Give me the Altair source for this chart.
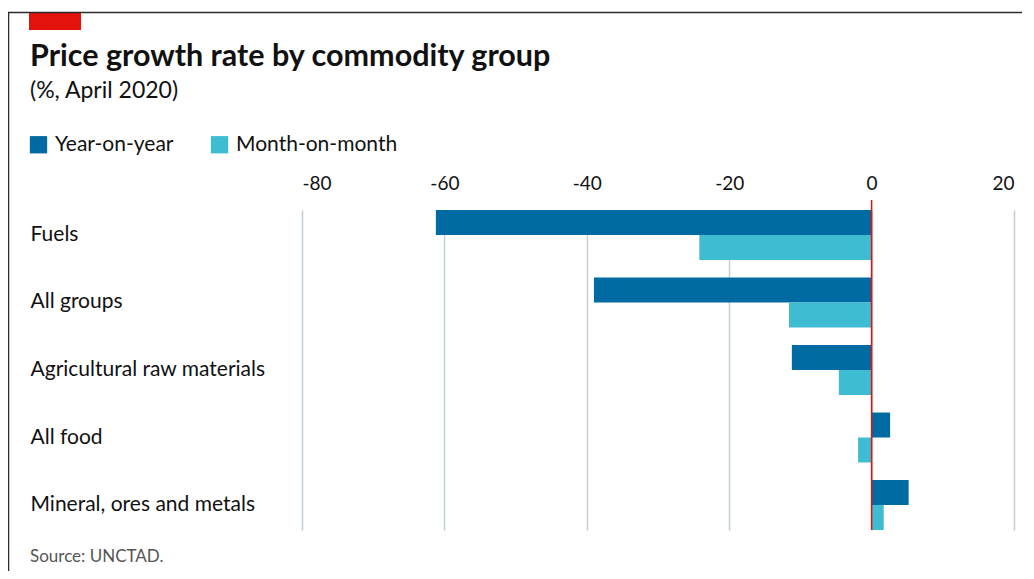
import altair as alt
import pandas as pd

categories = ["Fuels", "All groups", "Agricultural raw materials", "All food", "Mineral, ores and metals"]
year_on_year = [-61.2, -39.0, -11.2, 2.6, 5.2]
month_on_month = [-24.2, -11.6, -4.6, -1.9, 1.7]
series = ["Year-on-year", "Month-on-month"]
colors = ["#006BA2", "#3EBCD2"]
x_ticks = [-80, -60, -40, -20, 0, 20]

rows = []
for c, a, b in zip(categories, year_on_year, month_on_month):
    rows.append({"group": c, "series": series[0], "value": a})
    rows.append({"group": c, "series": series[1], "value": b})
df = pd.DataFrame(rows)

FONT = "Lato"
INK = "#111111"
one = pd.DataFrame({"a": [0]})

bars = alt.Chart(df).mark_bar(strokeWidth=0).encode(
    x=alt.X("value:Q",
            scale=alt.Scale(domain=[-80, 20], nice=False, zero=False),
            axis=alt.Axis(orient="top", values=x_ticks, title=None, domain=False, ticks=False,
                          grid=True, gridColor="#C2CFD8", gridWidth=1.5,
                          labelExpr="'' + datum.value",
                          labelFontSize=19, labelColor=INK, labelPadding=7, labelFont=FONT)),
    y=alt.Y("group:N", sort=categories,
            scale=alt.Scale(range=[10, 330], paddingInner=0.26, paddingOuter=0),
            axis=alt.Axis(title=None, domain=False, ticks=False, grid=False,
                          labelAlign="left",
                          labelPadding=272, labelFontSize=21, labelColor=INK,
                          labelLimit=400, labelFont=FONT)),
    yOffset=alt.YOffset("series:N", sort=series, scale=alt.Scale(paddingInner=0, paddingOuter=0)),
    color=alt.Color("series:N", sort=series,
                    scale=alt.Scale(domain=series, range=colors),
                    legend=alt.Legend(title=None, orient="none", legendX=-274, legendY=-66,
                                      direction="horizontal", symbolType="square",
                                      symbolSize=300, symbolStrokeWidth=0, labelFontSize=21,
                                      labelFont=FONT, labelColor=INK, labelOffset=6,
                                      labelLimit=400, columnPadding=35)),
)

zero = alt.Chart(one).mark_rule(color="#E3120B", strokeWidth=1.5).encode(x=alt.datum(0))

red_tag = alt.Chart(one).mark_rect(color="#E3120B").encode(
    x=alt.value(-273), x2=alt.value(-221), y=alt.value(-187), y2=alt.value(-170))

frame_top = alt.Chart(one).mark_rule(color="#2b2b2b", strokeWidth=1.5).encode(
    x=alt.value(-294), x2=alt.value(720), y=alt.value(-187.5))
frame_left = alt.Chart(one).mark_rule(color="#2b2b2b", strokeWidth=1.5).encode(
    x=alt.value(-293.5), y=alt.value(-188), y2=alt.value(400))

title = alt.Chart(one).mark_text(align="left", baseline="alphabetic", fontSize=30.5,
                                 fontWeight="bold", font=FONT, color=INK).encode(
    x=alt.value(-272), y=alt.value(-134),
    text=alt.value("Price growth rate by commodity group"))

subtitle = alt.Chart(one).mark_text(align="left", baseline="alphabetic", fontSize=23,
                                    font=FONT, color=INK).encode(
    x=alt.value(-272), y=alt.value(-102), text=alt.value("(%, April 2020)"))

source = alt.Chart(one).mark_text(align="left", baseline="alphabetic", fontSize=17,
                                  font=FONT, color="#555555").encode(
    x=alt.value(-272), y=alt.value(362), text=alt.value("Source: UNCTAD."))

chart = alt.layer(bars, zero, red_tag, frame_top, frame_left, title, subtitle, source).properties(
    width=712, height=330,
    background="white",
    padding={"left": 294, "top": 192, "right": 12, "bottom": 41},
    autosize=alt.AutoSizeParams(type="none"),
).configure_view(stroke=None)

chart.save("out.html", embed_options={"renderer": "svg", "actions": False})
